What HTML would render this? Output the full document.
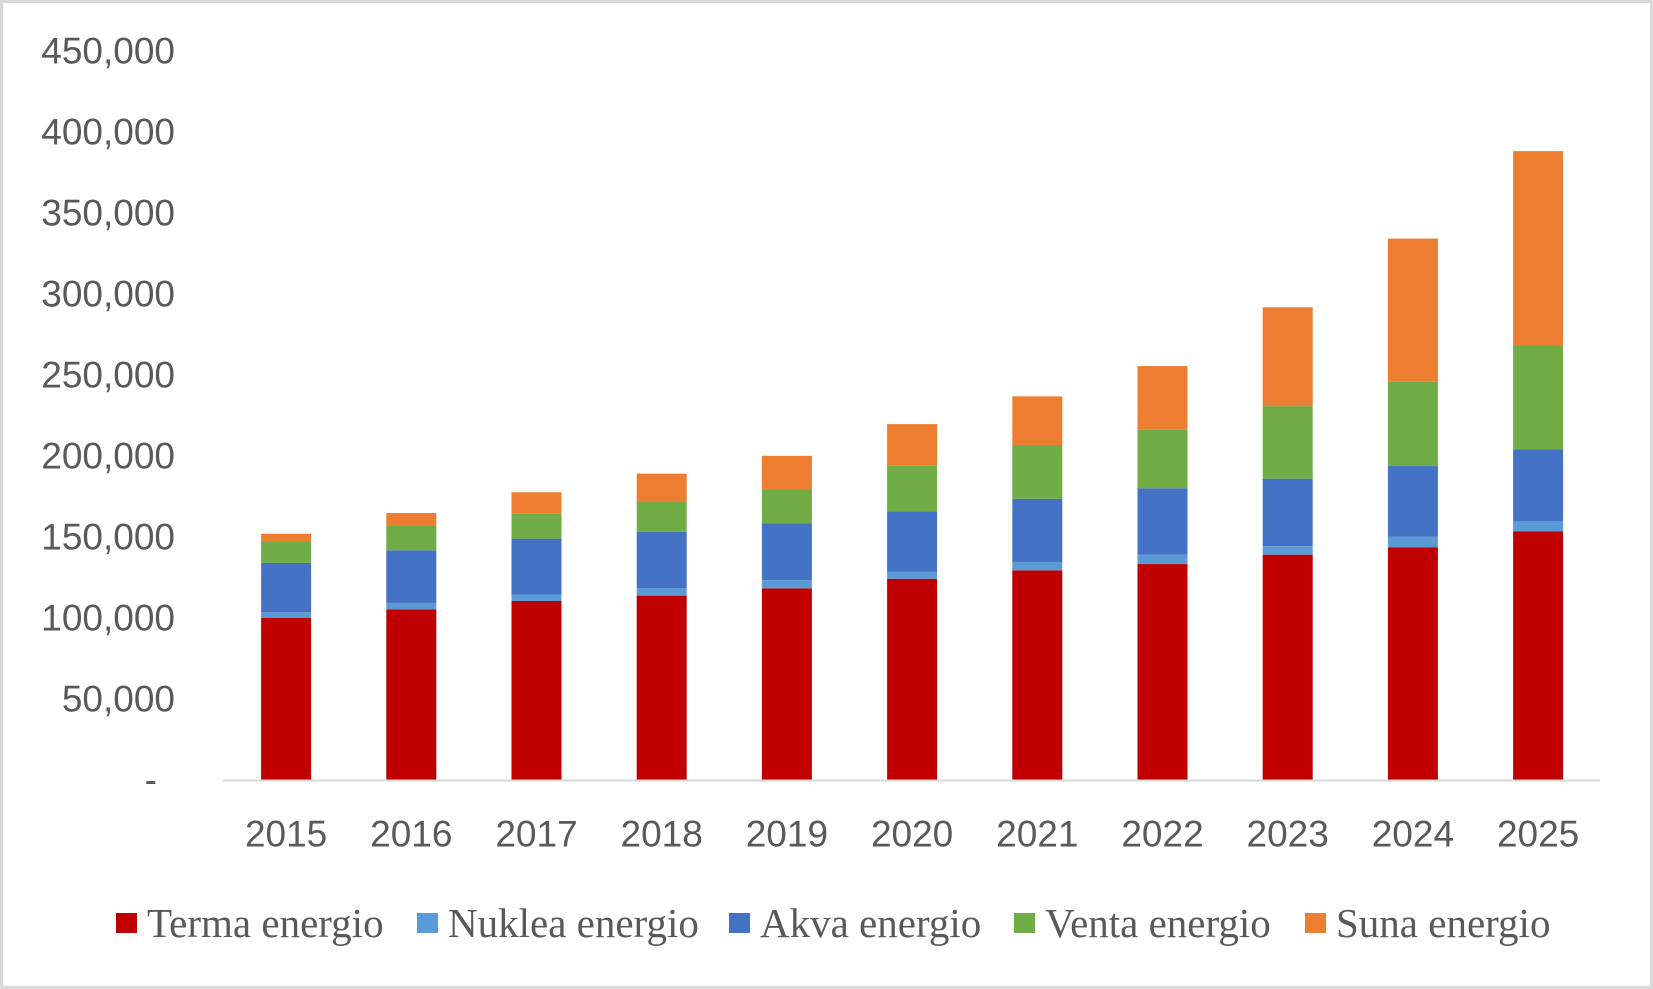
<!DOCTYPE html>
<html><head><meta charset="utf-8"><style>
html,body{margin:0;padding:0;background:#fff;}
svg{display:block;}
</style></head><body>
<svg id="chart" width="1653" height="989" viewBox="0 0 1653 989" xmlns="http://www.w3.org/2000/svg">
<rect x="1.5" y="1.5" width="1650" height="986" fill="#fff" stroke="#d9d9d9" stroke-width="3"/>
<g id="yticks"></g>
<g id="bars"></g>
<line x1="223" y1="780.5" x2="1600" y2="780.5" stroke="#d9d9d9" stroke-width="2"/>
<g id="xticks"></g>
<g id="legend"></g>
</svg>
<script>
const categories = ["2015","2016","2017","2018","2019","2020","2021","2022","2023","2024","2025"];
const terma = [100000,105300,110500,113800,118300,124200,129400,133300,139100,143700,153400];
const nuklea = [3500,4000,4000,4500,5000,4500,5200,5800,5200,6500,6500];
const akva = [30500,32500,34500,35000,35000,37000,39000,41000,41700,43600,44300];
const venta = [13500,15000,15600,18300,21000,28600,33200,36400,44800,52000,64300];
const suna = [4500,8000,13000,17500,20800,25400,30000,39000,61000,88400,119700];
const seriesNames = ["Terma energio","Nuklea energio","Akva energio","Venta energio","Suna energio"];
const yTicks = [0,50000,100000,150000,200000,250000,300000,350000,400000,450000];
const yTickLabels = ["-","50,000","100,000","150,000","200,000","250,000","300,000","350,000","400,000","450,000"];

const colors = ["#c00000","#5b9bd5","#4472c4","#70ad47","#ed7d31"];
const NS = "http://www.w3.org/2000/svg";
const y0 = 780, pxPer = 81.0/50000;
const yScale = v => y0 - v*pxPer;
const plotLeft = 223.5, band = 125.2, barW = 50;
const xCenter = i => plotLeft + band*(i+0.5);

function mk(tag, attrs, parent){const e=document.createElementNS(NS,tag);for(const k in attrs)e.setAttribute(k,attrs[k]);parent.appendChild(e);return e;}

const yg = document.getElementById('yticks');
yTicks.forEach((t,i)=>{
  const isDash = yTickLabels[i] === "-";
  const el = mk('text',{x:isDash?157:175,y:yScale(t),'text-anchor':'end','dominant-baseline':'central','font-family':'Liberation Sans, sans-serif','font-size':37,fill:'#595959'},yg);
  
  
  el.textContent = yTickLabels[i];
});

const series = [terma,nuklea,akva,venta,suna];
const bg = document.getElementById('bars');
categories.forEach((c,i)=>{
  let base = 0;
  series.forEach((s,j)=>{
    const top = base + s[i];
    const r = mk('rect',{x:xCenter(i)-barW/2,y:yScale(top),width:barW,height:yScale(base)-yScale(top),fill:colors[j]},bg);
    
    
    base = top;
  });
});

const xg = document.getElementById('xticks');
categories.forEach((c,i)=>{
  const t = mk('text',{x:xCenter(i),y:834,'text-anchor':'middle','dominant-baseline':'central','font-family':'Liberation Sans, sans-serif','font-size':37,fill:'#595959'},xg);
  
  
  t.textContent = c;
});

const lg = document.getElementById('legend');
const sqX = [116,417,729,1014,1305];
seriesNames.forEach((n,j)=>{
  const s = mk('rect',{x:sqX[j],y:913,width:21,height:20,fill:colors[j]},lg);
  
  
  const t = mk('text',{x:sqX[j]+31,y:937,'font-family':'Liberation Serif, serif','font-size':41,fill:'#595959'},lg);
  
  
  t.textContent = n;
});
</script>
</body></html>
